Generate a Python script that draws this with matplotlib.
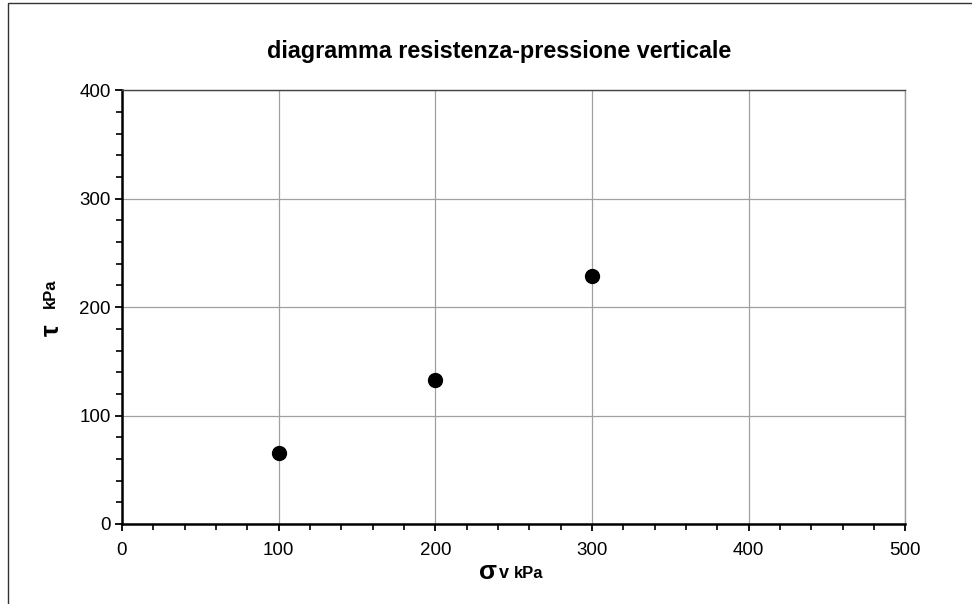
import matplotlib
matplotlib.use("Agg")
import matplotlib.pyplot as plt
from matplotlib.ticker import MultipleLocator
from matplotlib.patches import Rectangle

# sigma_v (kPa) and tau (kPa)
sigma_v = [100, 200, 300]
tau = [65, 133, 229]

x_ticks = [0, 100, 200, 300, 400, 500]
y_ticks = [0, 100, 200, 300, 400]

title = "diagramma resistenza-pressione verticale"

plt.rcParams["font.family"] = ["Liberation Sans", "DejaVu Sans"]

fig = plt.figure(figsize=(9.72, 6.04), dpi=100)
ax = fig.add_axes([0.1255, 0.1325, 0.806, 0.718])

ax.plot(sigma_v, tau, "o", color="black", markersize=10, zorder=5, clip_on=False)

ax.set_xlim(x_ticks[0], x_ticks[-1])
ax.set_ylim(y_ticks[0], y_ticks[-1])
ax.set_xticks(x_ticks)
ax.set_yticks(y_ticks)
ax.xaxis.set_minor_locator(MultipleLocator(20))
ax.yaxis.set_minor_locator(MultipleLocator(20))

ax.grid(True, which="major", color="#a0a0a0", linewidth=0.9)
ax.set_axisbelow(True)

ax.tick_params(axis="both", which="major", direction="out", length=5, width=1.3,
               labelsize=13.5, colors="black")
ax.tick_params(axis="x", which="major", pad=8)
ax.tick_params(axis="y", which="major", pad=3)
ax.tick_params(axis="both", which="minor", direction="out", length=4, width=1.2)

for side in ("left", "bottom"):
    ax.spines[side].set_linewidth(1.8)
    ax.spines[side].set_color("black")
ax.spines["top"].set_color("#444444")
ax.spines["top"].set_linewidth(1.0)
ax.spines["right"].set_color("#9a9a9a")
ax.spines["right"].set_linewidth(1.0)

fig.text(0.514, 0.914, title, ha="center", va="center", fontsize=16.8, fontweight="bold")

# y label: tau kPa
fig.text(0.053, 0.454, "τ", rotation=90, ha="center", va="center",
         fontsize=19, fontweight="bold")
fig.text(0.052, 0.515, "kPa", rotation=90, ha="center", va="center",
         fontsize=12, fontweight="bold")

# x label: sigma_v kPa
fig.text(0.502, 0.053, "σ", ha="center", va="center",
         fontsize=19, fontweight="bold")
fig.text(0.518, 0.050, "v", ha="center", va="center", fontsize=13, fontweight="bold")
fig.text(0.544, 0.051, "kPa", ha="center", va="center", fontsize=12, fontweight="bold")

# outer frame of the scanned chart area
fig.add_artist(Rectangle((0.008, -0.05), 1.1, 1.045, transform=fig.transFigure,
                         fill=False, edgecolor="#333333", linewidth=1.0))

fig.savefig("out.png", dpi=100)
